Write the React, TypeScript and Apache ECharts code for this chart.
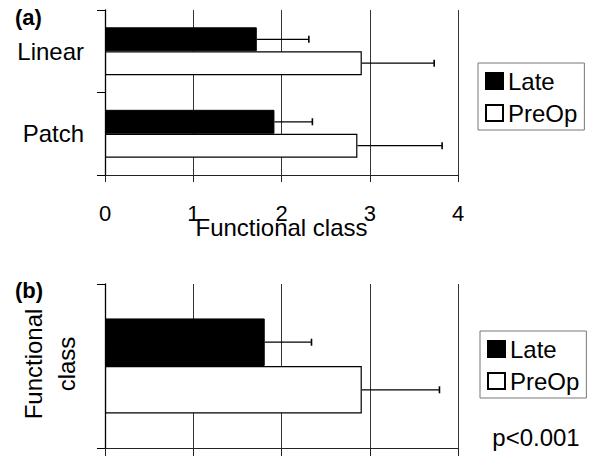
import React, { useEffect, useRef } from 'react';
import * as echarts from 'echarts';

// ---- data ----
const categoriesA = ['Linear', 'Patch'];
const lateA = [1.72, 1.92];
const lateErrA = [0.59, 0.43];
const preOpA = [2.91, 2.86];
const preOpErrA = [0.82, 0.96];

const categoriesB = [''];
const lateB = [1.81];
const lateErrB = [0.53];
const preOpB = [2.91];
const preOpErrB = [0.88];

const seriesNames = ['Late', 'PreOp'];
const xMin = 0;
const xMax = 4;
const xInterval = 1;
const xAxisTitle = 'Functional class';
const yAxisTitleB = 'Functional\nclass';
const panelLabels = ['(a)', '(b)'];
const pValueText = 'p<0.001';

const FONT = '"Liberation Sans", Arial, Helvetica, sans-serif';
const BAR_FRAC = 0.29;

function errRender(sign: number) {
  return (params: any, api: any) => {
    const v = api.value(0);
    const e = api.value(1);
    const c = api.value(2);
    const band = api.size([0, 1])[1];
    const p0 = api.coord([v, c]);
    const p1 = api.coord([v + e, c]);
    const y = p0[1] + sign * band * BAR_FRAC / 2;
    const st = { stroke: '#000', lineWidth: 1.3 };
    return {
      type: 'group',
      children: [
        { type: 'line', shape: { x1: p0[0], y1: y, x2: p1[0], y2: y }, style: st },
        { type: 'line', shape: { x1: p1[0], y1: y - 3.5, x2: p1[0], y2: y + 3.5 }, style: { stroke: '#000', lineWidth: 1.6 } },
      ],
    };
  };
}

function errData(vals: number[], errs: number[]) {
  return vals.map((v, i) => [v, errs[i], i]);
}

export default function App() {
  const ref = useRef<HTMLDivElement>(null);
  useEffect(() => {
    if (!ref.current) return;
    const chart = echarts.init(ref.current, null, { renderer: 'svg' });

    const xAxisBase = {
      type: 'value',
      min: xMin,
      max: xMax,
      interval: xInterval,
      axisLine: { show: true, onZero: false, lineStyle: { color: '#222', width: 1 } },
      axisTick: { show: true, length: 7, lineStyle: { color: '#222', width: 1 } },
      splitLine: { show: true, lineStyle: { color: '#333', width: 1 } },
    };
    const yAxisBase = {
      type: 'category',
      inverse: true,
      axisLine: { show: true, lineStyle: { color: '#000', width: 1.3 } },
      axisTick: { show: true, length: 8, lineStyle: { color: '#000', width: 1 } },
      splitLine: { show: false },
    };
    const legendBase = {
      data: seriesNames,
      orient: 'vertical',
      icon: 'rect',
      itemWidth: 17,
      itemHeight: 16,
      itemGap: 8,
      padding: [6, 7, 5, 7],
      borderColor: '#777',
      borderWidth: 1,
      backgroundColor: '#fff',
      selectedMode: false,
      textStyle: { fontFamily: FONT, fontSize: 24, color: '#000' },
    };

    chart.setOption({
      animation: false,
      backgroundColor: '#fff',
      textStyle: { fontFamily: FONT },
      grid: [
        { left: 105, right: 131, top: 10, height: 165, outerBoundsMode: 'none', containLabel: false },
        { left: 105, right: 131, top: 284, height: 164, outerBoundsMode: 'none', containLabel: false },
      ],
      xAxis: [
        {
          ...xAxisBase,
          gridIndex: 0,
          axisLabel: { show: true, fontFamily: FONT, fontSize: 22, color: '#000', margin: 27 },
          name: xAxisTitle,
          nameLocation: 'middle',
          nameGap: 40,
          nameMoveOverlap: false,
          nameTextStyle: { fontFamily: FONT, fontSize: 24, color: '#000' },
        },
        {
          ...xAxisBase,
          gridIndex: 1,
          axisTick: { show: true, length: 8, lineStyle: { color: '#222', width: 1 } },
          axisLabel: { show: false },
        },
      ],
      yAxis: [
        {
          ...yAxisBase,
          gridIndex: 0,
          data: categoriesA,
          axisLabel: { show: true, fontFamily: FONT, fontSize: 24, color: '#000', margin: 21 },
        },
        {
          ...yAxisBase,
          gridIndex: 1,
          data: categoriesB,
          axisLabel: { show: false },
        },
      ],
      legend: [
        { ...legendBase, left: 478, top: 63 },
        { ...legendBase, left: 480, top: 331 },
      ],
      series: [
        {
          name: seriesNames[0], type: 'bar', xAxisIndex: 0, yAxisIndex: 0,
          data: lateA, barWidth: (BAR_FRAC * 100) + '%', barGap: '0%',
          itemStyle: { color: '#000', borderColor: '#000', borderWidth: 1 },
        },
        {
          name: seriesNames[1], type: 'bar', xAxisIndex: 0, yAxisIndex: 0,
          data: preOpA, barWidth: (BAR_FRAC * 100) + '%', barGap: '0%',
          itemStyle: { color: '#fff', borderColor: '#000', borderWidth: 1.2 },
        },
        {
          name: seriesNames[0], type: 'bar', xAxisIndex: 1, yAxisIndex: 1,
          data: lateB, barWidth: (BAR_FRAC * 100) + '%', barGap: '0%',
          itemStyle: { color: '#000', borderColor: '#000', borderWidth: 1 },
        },
        {
          name: seriesNames[1], type: 'bar', xAxisIndex: 1, yAxisIndex: 1,
          data: preOpB, barWidth: (BAR_FRAC * 100) + '%', barGap: '0%',
          itemStyle: { color: '#fff', borderColor: '#000', borderWidth: 1.2 },
        },
        {
          name: 'errLateA', type: 'custom', xAxisIndex: 0, yAxisIndex: 0, z: 5,
          encode: { x: 0, y: 2 }, renderItem: errRender(-1), data: errData(lateA, lateErrA), clip: false,
        },
        {
          name: 'errPreOpA', type: 'custom', xAxisIndex: 0, yAxisIndex: 0, z: 5,
          encode: { x: 0, y: 2 }, renderItem: errRender(1), data: errData(preOpA, preOpErrA), clip: false,
        },
        {
          name: 'errLateB', type: 'custom', xAxisIndex: 1, yAxisIndex: 1, z: 5,
          encode: { x: 0, y: 2 }, renderItem: errRender(-1), data: errData(lateB, lateErrB), clip: false,
        },
        {
          name: 'errPreOpB', type: 'custom', xAxisIndex: 1, yAxisIndex: 1, z: 5,
          encode: { x: 0, y: 2 }, renderItem: errRender(1), data: errData(preOpB, preOpErrB), clip: false,
        },
      ],
      graphic: [
        {
          type: 'text', left: 15, top: 6,
          style: { text: panelLabels[0], fontFamily: FONT, fontSize: 22, fontWeight: 'bold', fill: '#000' },
        },
        {
          type: 'text', left: 15, top: 279,
          style: { text: panelLabels[1], fontFamily: FONT, fontSize: 22, fontWeight: 'bold', fill: '#000' },
        },
        {
          type: 'text', x: 50, y: 364, rotation: Math.PI / 2,
          style: {
            text: yAxisTitleB, fontFamily: FONT, fontSize: 24, fill: '#000',
            align: 'center', verticalAlign: 'middle', lineHeight: 33,
          },
        },
        {
          type: 'text', x: 536, y: 437,
          style: { text: pValueText, fontFamily: FONT, fontSize: 24, fill: '#000', align: 'center', verticalAlign: 'middle' },
        },
      ],
    });
    return () => chart.dispose();
  }, []);

  return <div ref={ref} style={{ width: 589, height: 456, position: 'absolute', left: 0, top: 0 }} />;
}
